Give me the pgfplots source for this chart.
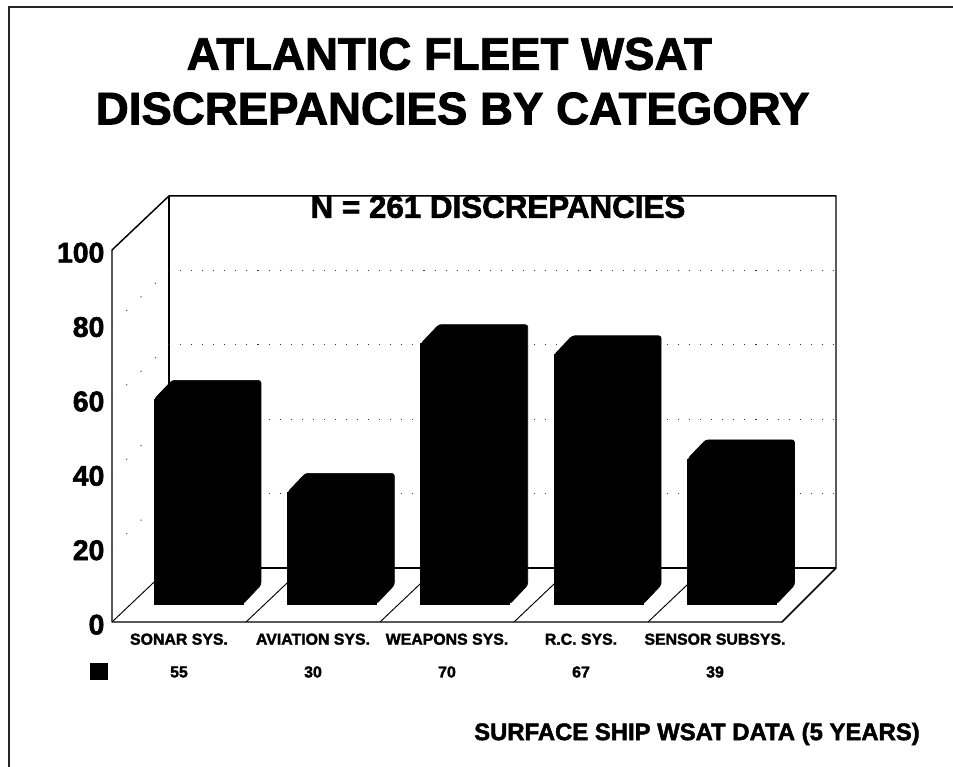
\documentclass[border=0pt]{standalone}
\usepackage{fontspec}
\setmainfont{Liberation Sans}
\newfontfamily\heavy[UprightFont=* Bold,FakeBold=2]{Liberation Sans}
\usepackage{pgfplots}
\usepackage{pgfplotstable}
\pgfplotsset{compat=1.18}
\pgfplotstableread{
cat value
0 55
1 30
2 70
3 67
4 39
}\wsatdata
\begin{document}
\begin{tikzpicture}
\useasboundingbox (0,0) rectangle (714.75pt,575.25pt);
% page frame
\draw[line width=1.1pt,black!85] (6.75pt,0pt) -- (6.75pt,570pt) -- (714.75pt,570pt);
% titles
\node[font=\fontsize{34.2}{40}\selectfont\heavy,inner sep=0pt,anchor=base] at (337pt,523pt) {ATLANTIC FLEET WSAT};
\node[font=\fontsize{34.2}{40}\selectfont\heavy,inner sep=0pt,anchor=base] at (339.5pt,482pt) {DISCREPANCIES BY CATEGORY};
% frame axis
\begin{axis}[
  at={(84pt,108.75pt)},anchor=south west,
  scale only axis,width=502.5pt,height=279pt,
  xmin=-0.5,xmax=4.5,ymin=0,ymax=100,
  clip=false,
  axis line style={draw=none},
  major tick length=0pt,
  tick pos=left,
  xtick={0,1,2,3,4},
  xticklabels={SONAR SYS.,AVIATION SYS.,WEAPONS SYS.,R.C. SYS.,SENSOR SUBSYS.},
  ytick={0,20,40,60,80,100},
  /pgf/number format/assume math mode=true,
  xticklabel style={font=\fontsize{11.9}{13}\selectfont\heavy,inner sep=0pt,yshift=-8.5pt},
  yticklabel style={font=\fontsize{21.3}{24}\selectfont\heavy,inner sep=0pt,xshift=-5.5pt,yshift=-2pt},
]
% floor and walls
\addplot[black,line width=1.1pt,line join=round] coordinates {(-0.5,100) (-0.5,0) (4.5,0) (4.903,14.52) (4.903,114.52) (-0.075,114.52) (-0.5,100)};
\addplot[black,line width=0.9pt] coordinates {(-0.075,114.52) (-0.075,14.52) (4.903,14.52)};
\addplot[black,line width=0.7pt] coordinates {(-0.5,0) (-0.075,14.52)};
\addplot[black,line width=0.7pt] coordinates {(0.5,0) (0.925,14.52)};
\addplot[black,line width=0.7pt] coordinates {(1.5,0) (1.925,14.52)};
\addplot[black,line width=0.7pt] coordinates {(2.5,0) (2.925,14.52)};
\addplot[black,line width=0.7pt] coordinates {(3.5,0) (3.925,14.52)};
% dotted grid
\foreach \v/\w in {20/34.52,40/54.52,60/74.52,80/94.52}{
  \edef\temp{\noexpand\addplot[black!80,line width=0.8pt,dash pattern=on 0.8pt off 7.5pt] coordinates {(-0.075,\w) (4.903,\w)};
  \noexpand\addplot[black!70,line width=0.8pt,dash pattern=on 0.8pt off 14pt] coordinates {(-0.5,\v) (-0.075,\w)};}
  \temp
}
% data row
\node[font=\fontsize{11.9}{13}\selectfont\heavy] at (axis cs:0,-13.44) {55};
\node[font=\fontsize{11.9}{13}\selectfont\heavy] at (axis cs:1,-13.44) {30};
\node[font=\fontsize{11.9}{13}\selectfont\heavy] at (axis cs:2,-13.44) {70};
\node[font=\fontsize{11.9}{13}\selectfont\heavy] at (axis cs:3,-13.44) {67};
\node[font=\fontsize{11.9}{13}\selectfont\heavy] at (axis cs:4,-13.44) {39};
\end{axis}
% bars axis: same scale, floor raised
\begin{axis}[
  at={(84pt,108.75pt)},anchor=south west,
  scale only axis,width=502.5pt,height=279pt,
  xmin=-0.6484,xmax=4.374,ymin=-4.84,ymax=95.16,
  clip=false,
  hide axis,
]
\addplot[fill=black,draw=black,line width=0.5pt,line join=round,rounded corners=2pt] coordinates {(-0.333,55) (-0.198,60.1) (0.468,60.1) (0.468,5.1) (0.333,0)} --cycle;
\addplot[fill=black,draw=black,line width=0.5pt,line join=round,rounded corners=2pt] coordinates {(0.667,30) (0.802,35.1) (1.468,35.1) (1.468,5.1) (1.333,0)} --cycle;
\addplot[fill=black,draw=black,line width=0.5pt,line join=round,rounded corners=2pt] coordinates {(1.667,70) (1.802,75.1) (2.468,75.1) (2.468,5.1) (2.333,0)} --cycle;
\addplot[fill=black,draw=black,line width=0.5pt,line join=round,rounded corners=2pt] coordinates {(2.667,67) (2.802,72.1) (3.468,72.1) (3.468,5.1) (3.333,0)} --cycle;
\addplot[fill=black,draw=black,line width=0.5pt,line join=round,rounded corners=2pt] coordinates {(3.667,39) (3.802,44.1) (4.468,44.1) (4.468,5.1) (4.333,0)} --cycle;
\addplot[ybar,bar width=0.667,fill=black,draw=black,line width=0.5pt] table[x=cat,y=value] {\wsatdata};
\end{axis}
% subtitle, legend key, source line
\node[font=\fontsize{23.5}{26}\selectfont\heavy,inner sep=0pt,anchor=center] at (373.5pt,420pt) {N = 261 DISCREPANCIES};
\fill[black] (67.5pt,65pt) rectangle (81pt,78pt);
\node[font=\fontsize{17.9}{20}\selectfont\heavy,inner sep=0pt,anchor=east] at (690pt,24.8pt) {SURFACE SHIP WSAT DATA (5 YEARS)};
\end{tikzpicture}
\end{document}
